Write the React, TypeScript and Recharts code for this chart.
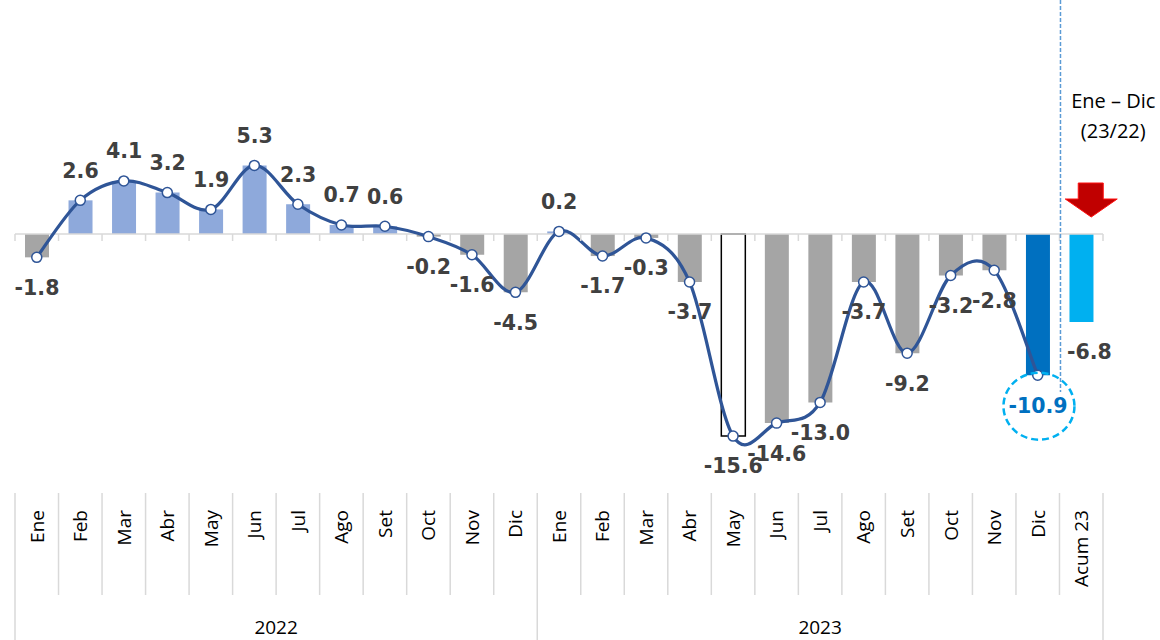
import React from "react";
import { Bar, Cell, ComposedChart, LabelList, Line, ReferenceLine, XAxis, YAxis } from "recharts";

// monthly year-on-year variation (%)
const months = ["Ene", "Feb", "Mar", "Abr", "May", "Jun", "Jul", "Ago", "Set", "Oct", "Nov", "Dic"];
const years = ["2022", "2023"];
const values2022 = [-1.8, 2.6, 4.1, 3.2, 1.9, 5.3, 2.3, 0.7, 0.6, -0.2, -1.6, -4.5];
const values2023 = [0.2, -1.7, -0.3, -3.7, -15.6, -14.6, -13.0, -3.7, -9.2, -3.2, -2.8, -10.9];
const acumLabel = "Acum 23";
const acumValue = -6.8;
const periodNote = ["Ene – Dic", "(23/22)"];

const rows = [
  ...values2022.map((v, i) => ({ cat: months[i], year: years[0], bar: v, line: v as number | null })),
  ...values2023.map((v, i) => ({ cat: months[i], year: years[1], bar: v, line: v as number | null })),
  { cat: acumLabel, year: years[1], bar: acumValue, line: null },
];

const W = 1160;
const H = 640;
const LEFT = 15;
const RIGHT = 57;
const AXIS_H = 145;
const PLOT_BOTTOM = H - AXIS_H;
const YMIN = -20.15;
const YMAX = 18.07;
const STEP = (W - LEFT - RIGHT) / rows.length;
const ZERO_Y = (YMAX / (YMAX - YMIN)) * PLOT_BOTTOM;
const GRID = "#D9D9D9";
const LINE_BLUE = "#2F5597";
const TEXT_FONT = "'Open Sans', sans-serif";
const LABEL_FONT = "'DejaVu Sans', sans-serif";

const lastIdx = rows.length - 1;
const decIdx = rows.length - 2;
const minMonth = Math.min(...values2022, ...values2023);

// Excel-style smoothed line (Catmull-Rom through the points)
function smoothCurve(context: any) {
  let pts: number[][] = [];
  return {
    areaStart() {},
    areaEnd() {},
    lineStart() {
      pts = [];
    },
    point(x: number, y: number) {
      pts.push([+x, +y]);
    },
    lineEnd() {
      if (!pts.length) return;
      context.moveTo(pts[0][0], pts[0][1]);
      for (let i = 0; i < pts.length - 1; i++) {
        const p0 = pts[i - 1] || pts[i];
        const p1 = pts[i];
        const p2 = pts[i + 1];
        const p3 = pts[i + 2] || p2;
        context.bezierCurveTo(
          p1[0] + (p2[0] - p0[0]) / 6,
          p1[1] + (p2[1] - p0[1]) / 6,
          p2[0] - (p3[0] - p1[0]) / 6,
          p2[1] - (p3[1] - p1[1]) / 6,
          p2[0],
          p2[1]
        );
      }
    },
  };
}

function barFill(i: number, v: number) {
  if (i === lastIdx) return "#00B0F0";
  if (i === decIdx) return "#0070C0";
  if (v === minMonth) return "#FFFFFF";
  return v >= 0 ? "#8EA9DB" : "#A5A5A5";
}

function ValueLabel(props: any) {
  const b = props.viewBox && props.viewBox.width !== undefined ? props.viewBox : props;
  const { x, y, width, height } = b;
  const v = Number(props.value);
  const idx = props.index;
  const end = v >= 0 ? Math.min(y, y + height) : Math.max(y, y + height);
  const cy = end + (v >= 0 ? -30 : 30);
  const cx = x + width / 2 + (idx === lastIdx ? 8 : 0);
  return (
    <g>
      {idx === decIdx && (
        <ellipse cx={cx + 1} cy={cy + 1} rx={35.5} ry={33.5} fill="none" stroke="#00B0F0" strokeWidth={2.5} strokeDasharray="7 4" />
      )}
      <text
        x={cx}
        y={cy}
        dy="0.36em"
        textAnchor="middle"
        fontFamily={LABEL_FONT}
        fontWeight="bold"
        fontSize={20.5}
        fill={idx === decIdx ? "#0070C0" : "#404040"}
      >
        {v.toFixed(1)}
      </text>
    </g>
  );
}

function CategoryTick(props: any) {
  const { x, index } = props;
  const row = rows[index];
  if (!row) return null;
  const left = x - STEP / 2;
  const right = x + STEP / 2;
  const isLast = index === lastIdx;
  const groupStart = index === 0 || rows[index - 1].year !== row.year;
  const groupSize = rows.filter((r) => r.year === row.year).length;
  return (
    <g>
      <line x1={left} x2={left} y1={ZERO_Y} y2={ZERO_Y + 7} stroke={GRID} strokeWidth={1.5} />
      {isLast && <line x1={right} x2={right} y1={ZERO_Y} y2={ZERO_Y + 7} stroke={GRID} strokeWidth={1.5} />}
      <line x1={left} x2={left} y1={493} y2={groupStart ? H : 595} stroke={GRID} strokeWidth={1.5} />
      {isLast && <line x1={right} x2={right} y1={493} y2={H} stroke={GRID} strokeWidth={1.5} />}
      <text
        x={x}
        y={510}
        dy="0.36em"
        transform={`rotate(-90, ${x}, 510)`}
        textAnchor="end"
        fontFamily={TEXT_FONT}
        fontSize={19}
        fill="#000"
      >
        {row.cat}
      </text>
      {groupStart && (
        <text
          x={x + ((groupSize - 1) * STEP) / 2}
          y={627}
          dy="0.36em"
          textAnchor="middle"
          fontFamily={TEXT_FONT}
          fontSize={19}
          fill="#000"
        >
          {row.year}
        </text>
      )}
      {isLast && (
        <g>
          <line x1={left + 1} x2={left + 1} y1={0} y2={392} stroke="#5B9BD5" strokeWidth={1.5} strokeDasharray="4 2" />
          <polygon
            points={[
              [x - 3, 183], [x + 22, 183], [x + 22, 199], [x + 36, 199],
              [x + 10, 217], [x - 16, 199], [x - 3, 199],
            ].map((p) => p.join(",")).join(" ")}
            fill="#C00000"
            stroke="#FF1010"
            strokeWidth={1}
          />
          {periodNote.map((t, i) => (
            <text
              key={t}
              x={x + 32}
              y={101 + i * 30}
              dy="0.36em"
              textAnchor="middle"
              fontFamily={TEXT_FONT}
              fontSize={20}
              fill="#000"
            >
              {t}
            </text>
          ))}
        </g>
      )}
    </g>
  );
}

export default function App() {
  return (
    <div style={{ position: "absolute", left: 0, top: 0, width: W, height: H, background: "#fff" }}>
      <ComposedChart width={W} height={H} data={rows} margin={{ top: 0, right: RIGHT, left: LEFT, bottom: 0 }}>
        <XAxis
          dataKey="cat"
          height={AXIS_H}
          interval={0}
          axisLine={false}
          tickLine={false}
          tick={<CategoryTick />}
        />
        <YAxis hide domain={[YMIN, YMAX]} allowDataOverflow />
        <Bar dataKey="bar" barSize={24} isAnimationActive={false}>
          {rows.map((r, i) => (
            <Cell
              key={i}
              fill={barFill(i, r.bar)}
              stroke={r.bar === minMonth ? "#000" : "none"}
              strokeWidth={r.bar === minMonth ? 1.5 : 0}
            />
          ))}
          <LabelList dataKey="bar" content={<ValueLabel />} />
        </Bar>
        <ReferenceLine y={0} stroke={GRID} strokeWidth={1.5} />
        <Line
          dataKey="line"
          type={smoothCurve as any}
          stroke={LINE_BLUE}
          strokeWidth={3.25}
          dot={{ r: 5, fill: "#fff", stroke: LINE_BLUE, strokeWidth: 1.5 }}
          activeDot={false}
          isAnimationActive={false}
        />
      </ComposedChart>
    </div>
  );
}
